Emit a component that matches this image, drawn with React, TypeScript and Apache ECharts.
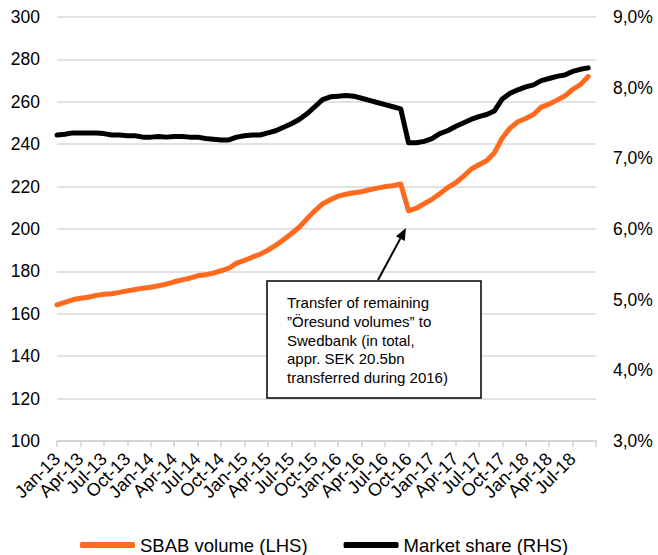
import React, { useEffect, useRef } from "react";
import * as echarts from "echarts";

const monthNames = ["Jan", "Feb", "Mar", "Apr", "May", "Jun", "Jul", "Aug", "Sep", "Oct", "Nov", "Dec"];
const years = ["13", "14", "15", "16", "17", "18"];
// Jan-13 .. Oct-18 (last category is the empty end of the axis)
const categories: string[] = [];
years.forEach((y) => monthNames.forEach((m) => categories.push(`${m}-${y}`)));
categories.splice(70);

const sbabVolume = [
  164.2, 165.4, 166.6, 167.3, 167.8, 168.7, 169.2, 169.5, 170.1, 170.8, 171.5, 172.1,
  172.5, 173.2, 174.0, 175.1, 176.0, 176.8, 177.9, 178.4, 179.2, 180.3, 181.5, 183.9,
  185.2, 186.7, 188.1, 190.0, 192.3, 194.9, 197.8, 200.8, 204.8, 208.6, 211.9, 213.8,
  215.5, 216.4, 217.1, 217.6, 218.5, 219.3, 220.0, 220.4, 221.2, 208.6, 209.8, 211.9,
  214.0, 216.6, 219.5, 221.7, 224.7, 228.2, 230.3, 232.2, 236.0, 242.9, 247.6, 250.6,
  252.1, 254.0, 257.5, 258.9, 260.8, 262.7, 265.8, 268.1, 271.9,
];

const marketShare = [
  7.33, 7.34, 7.36, 7.36, 7.36, 7.36, 7.35, 7.33, 7.33, 7.32, 7.32, 7.30,
  7.30, 7.31, 7.30, 7.31, 7.31, 7.30, 7.30, 7.28, 7.27, 7.26, 7.26, 7.30,
  7.32, 7.33, 7.33, 7.36, 7.39, 7.44, 7.49, 7.55, 7.63, 7.73, 7.83, 7.87,
  7.88, 7.89, 7.88, 7.85, 7.82, 7.79, 7.76, 7.73, 7.70, 7.22, 7.22, 7.24,
  7.28, 7.35, 7.39, 7.45, 7.50, 7.55, 7.59, 7.62, 7.67, 7.84, 7.92, 7.97,
  8.01, 8.04, 8.10, 8.13, 8.16, 8.18, 8.23, 8.26, 8.28,
];

const annotationLines = [
  "Transfer of remaining",
  "\u201dÖresund volumes\u201d to",
  "Swedbank (in total,",
  "appr. SEK 20.5bn",
  "transferred during 2016)",
];

const FONT = "'Liberation Sans', Arial, sans-serif";
const ORANGE = "#ff6a1f";

const labelStyle = {
  showMinLabel: true,
  showMaxLabel: true,
  hideOverlap: false,
  rotate: 45,
  margin: 15,
  fontSize: 18,
  fontFamily: FONT,
  color: "#000",
};

export default function App() {
  const ref = useRef<HTMLDivElement>(null);
  useEffect(() => {
    if (!ref.current) return;
    const chart = echarts.init(ref.current, null, { renderer: "svg" });
    chart.setOption({
      animation: false,
      textStyle: { fontFamily: FONT, color: "#000" },
      grid: { left: 57, right: 62, top: 17, bottom: 114, containLabel: false },
      legend: {
        left: 80,
        top: 535,
        height: 20,
        itemWidth: 55,
        itemHeight: 6,
        itemGap: 36,
        padding: 0,
        icon: "roundRect",
        textStyle: { fontFamily: FONT, fontSize: 18.5, color: "#000", lineHeight: 20 },
        data: ["SBAB volume (LHS)", "Market share (RHS)"],
      },
      xAxis: [
        {
          type: "category",
          data: categories,
          boundaryGap: false,
          axisLine: { lineStyle: { color: "#d0d0d0", width: 1.5 } },
          axisTick: {
            show: true,
            length: 6,
            interval: (i: number) => i % 3 === 0,
            lineStyle: { color: "#d0d0d0", width: 1.5 },
          },
          axisLabel: { ...labelStyle, interval: (i: number) => i % 6 === 0 && i < 69 },
          splitLine: { show: false },
        },
        {
          type: "category",
          data: categories,
          position: "bottom",
          boundaryGap: false,
          axisLine: { show: false },
          axisTick: { show: false },
          axisLabel: { ...labelStyle, interval: (i: number) => i % 6 === 3 && i < 69 },
          splitLine: { show: false },
        },
      ],
      yAxis: [
        {
          type: "value",
          min: 100,
          max: 300,
          interval: 20,
          axisLine: { show: false },
          axisTick: { show: false },
          axisLabel: { fontSize: 17.5, fontFamily: FONT, color: "#000", margin: 17 },
          splitLine: { lineStyle: { color: "#d9d9d9", width: 1.5 } },
        },
        {
          type: "value",
          min: 3,
          max: 9,
          interval: 1,
          position: "right",
          axisLine: { show: false },
          axisTick: { show: false },
          axisLabel: {
            fontSize: 17.5,
            fontFamily: FONT,
            color: "#000",
            margin: 17,
            formatter: (v: number) => v.toFixed(1).replace(".", ",") + "%",
          },
          splitLine: { show: false },
        },
      ],
      series: [
        {
          name: "SBAB volume (LHS)",
          type: "line",
          xAxisIndex: 0,
          yAxisIndex: 0,
          data: sbabVolume,
          symbol: "none",
          color: ORANGE,
          lineStyle: { color: ORANGE, width: 5, cap: "round", join: "round" },
          z: 3,
        },
        {
          name: "Market share (RHS)",
          type: "line",
          xAxisIndex: 0,
          yAxisIndex: 1,
          data: marketShare,
          symbol: "none",
          color: "#000",
          lineStyle: { color: "#000", width: 5, cap: "round", join: "round" },
          z: 3,
        },
      ],
      graphic: [
        {
          type: "rect",
          shape: { x: 267, y: 281, width: 214, height: 117 },
          style: { fill: "#fff", stroke: "#000", lineWidth: 1.5 },
          z: 10,
        },
        {
          type: "text",
          x: 287,
          y: 293,
          z: 11,
          style: {
            text: annotationLines.join("\n"),
            font: `15px ${FONT}`,
            lineHeight: 18.8,
            fill: "#000",
          },
        },
        {
          type: "line",
          shape: { x1: 378, y1: 280, x2: 400.3, y2: 238.6 },
          style: { stroke: "#000", lineWidth: 2 },
          z: 10,
        },
        {
          type: "polygon",
          shape: { points: [[406, 228], [404.7, 241], [395.9, 236.2]] },
          style: { fill: "#000" },
          z: 10,
        },
      ],
    });
    return () => chart.dispose();
  }, []);
  return (
    <div
      ref={ref}
      style={{ position: "fixed", left: 0, top: 0, width: 658, height: 555, background: "#fff" }}
    />
  );
}
